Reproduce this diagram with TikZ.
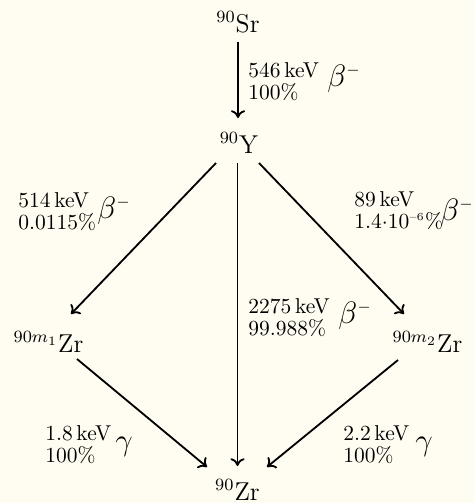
\documentclass[tikz,border=0pt]{standalone}
\usetikzlibrary{calc,arrows.meta}
\definecolor{bgcream}{RGB}{255,253,242}
\newcommand\twol[2]{{\renewcommand\arraystretch{0.78}\begin{tabular}[t]{@{}l@{}}#1\\#2\end{tabular}}}
\begin{document}
\begin{tikzpicture}[x=0.465pt,y=-0.465pt,
  nuc/.style={anchor=base, inner sep=0pt, font=\large},
  lab/.style={anchor=base west, inner sep=0pt, font=\normalsize},
  sym/.style={anchor=base west, inner sep=0pt, font=\fontsize{15}{18}\selectfont},
  decay/.style={-{Computer Modern Rightarrow[length=3.6pt,width=6.6pt]}, line width=0.85pt}]
\fill[bgcream] (0,0) rectangle (475,503);
\useasboundingbox (0,0) rectangle (475,503);
% nuclides
\node[nuc] (Sr) at (238,32) {$^{90}$Sr};
\node[nuc] (Y) at (239,153) {$^{90}$Y};
\node[nuc] (m1) at (48.5,352) {$^{90m_1}$Zr};
\node[nuc] (m2) at (427.5,352) {$^{90m_2}$Zr};
\node[nuc] (Zr) at (237.5,500) {$^{90}$Zr};
% labels
\node[lab] (t1) at (248,77) {\twol{546\,keV}{100\%}};
\node[sym] (b1) at (327,86) {$\beta^{\scriptscriptstyle -}$};
\node[lab] (t2) at (18,207) {\twol{514\,keV}{0.0115\%}};
\node[sym] (b2) at (97,218) {$\beta^{\scriptscriptstyle -}$};
\node[lab] (t3) at (354,206) {\twol{89\,keV}{1.4$\cdot$10\textsuperscript{\tiny\textendash6}\%}};
\node[sym] (b3) at (440,220) {$\beta^{\scriptscriptstyle -}$};
\node[lab] (t4) at (248,313) {\twol{2275\,keV}{99.988\%}};
\node[sym] (b4) at (338,323) {$\beta^{\scriptscriptstyle -}$};
\node[lab] (t5) at (45,440) {\twol{1.8\,keV}{100\%}};
\node[sym] (g5) at (115,450) {$\gamma$};
\node[lab] (t6) at (343,440) {\twol{2.2\,keV}{100\%}};
\node[sym] (g6) at (415,450) {$\gamma$};
% decays
\draw[decay] ($(Sr.base)+(0,10)$) -- ($(Y.base)+(-1,-35)$);
\draw[decay] ($(Y.base)+(-1.5,10)$) -- ($(Zr.base)+(0,-34)$);
\draw[decay] ($(Y.base)+(-23,10)$) -- ($(m1.base)+(22.5,-38)$);
\draw[decay] ($(Y.base)+(20,10)$) -- ($(m2.base)+(-23.5,-38)$);
\draw[decay] ($(m1.base)+(28.5,7)$) -- ($(Zr.base)+(-30.5,-33)$);
\draw[decay] ($(m2.base)+(-29.5,8)$) -- ($(Zr.base)+(29.5,-33)$);
\end{tikzpicture}
\end{document}
